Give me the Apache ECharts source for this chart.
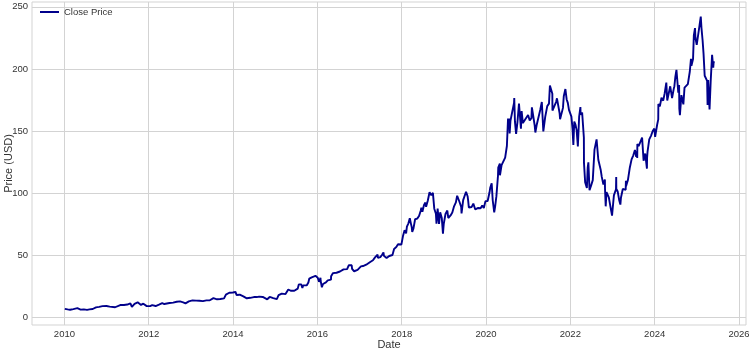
<!DOCTYPE html>
<html>
<head>
<meta charset="utf-8">
<script src="https://cdn.jsdelivr.net/npm/echarts@6/dist/echarts.min.js"></script>
<style>
  html, body { margin: 0; padding: 0; background: #fff; }
  #chart { width: 749px; height: 349px; }
</style>
</head>
<body>
<div id="chart"></div>
<script>
// close prices, split adjusted
let dates = [
  '2010-01-04','2010-01-15','2010-01-29','2010-02-05','2010-02-19','2010-03-05','2010-03-19','2010-04-01','2010-04-23','2010-05-07','2010-05-21','2010-06-04','2010-06-18','2010-07-01','2010-07-16','2010-08-06','2010-08-20','2010-09-03','2010-09-17','2010-10-01','2010-10-15','2010-10-29','2010-11-12','2010-11-26','2010-12-10','2010-12-31',
  '2011-01-14','2011-01-28','2011-02-11','2011-03-16','2011-04-01','2011-04-29','2011-05-31','2011-06-15','2011-06-30','2011-07-26','2011-08-08','2011-08-31','2011-09-27','2011-10-14','2011-10-26','2011-11-15','2011-11-30','2011-12-15','2011-12-30',
  '2012-01-13','2012-01-31','2012-02-15','2012-03-01','2012-03-30','2012-04-16','2012-04-27','2012-05-15','2012-06-01','2012-06-29','2012-07-16','2012-07-31','2012-08-15','2012-08-31','2012-09-14','2012-09-28','2012-10-15','2012-10-26','2012-11-15','2012-11-30','2012-12-14','2012-12-31',
  '2013-01-15','2013-01-31','2013-02-15','2013-02-28','2013-03-15','2013-03-28','2013-04-15','2013-04-30','2013-05-15','2013-05-31','2013-06-14','2013-06-28','2013-07-15','2013-07-31','2013-08-15','2013-08-30','2013-09-13','2013-09-30','2013-10-15','2013-10-31','2013-11-15','2013-11-29','2013-12-13','2013-12-31',
  '2014-01-15','2014-01-22','2014-01-31','2014-02-14','2014-02-28','2014-03-14','2014-03-31','2014-04-15','2014-04-30','2014-05-08','2014-05-30','2014-06-13','2014-06-30','2014-07-15','2014-07-25','2014-08-15','2014-08-29','2014-09-15','2014-09-30','2014-10-24','2014-10-31','2014-11-14','2014-11-28','2014-12-15','2014-12-31',
  '2015-01-15','2015-01-29','2015-01-30','2015-02-13','2015-02-27','2015-03-13','2015-03-31','2015-04-15','2015-04-24','2015-05-15','2015-05-29','2015-06-15','2015-06-30','2015-07-15','2015-07-24','2015-07-31','2015-08-14','2015-08-24','2015-08-31','2015-09-15','2015-09-30','2015-10-15','2015-10-23','2015-10-30','2015-11-13','2015-11-30','2015-12-15','2015-12-29',
  '2016-01-04','2016-01-15','2016-01-28','2016-01-29','2016-02-09','2016-02-19','2016-02-29','2016-03-15','2016-03-31','2016-04-15','2016-04-28','2016-04-29','2016-05-16','2016-05-31','2016-06-15','2016-06-24','2016-06-30','2016-07-15','2016-07-29','2016-08-15','2016-08-31','2016-09-15','2016-09-30','2016-10-14','2016-10-25','2016-10-28','2016-11-15','2016-11-30','2016-12-15','2016-12-30',
  '2017-01-13','2017-01-31','2017-02-03','2017-02-15','2017-02-28','2017-03-15','2017-03-31','2017-04-14','2017-04-27','2017-04-28','2017-05-15','2017-05-31','2017-06-06','2017-06-09','2017-06-16','2017-06-30','2017-07-14','2017-07-27','2017-07-31','2017-08-15','2017-08-23','2017-08-31','2017-09-15','2017-09-29','2017-10-13','2017-10-26','2017-10-27','2017-11-15','2017-11-30','2017-12-15','2017-12-29',
  '2018-01-12','2018-01-26','2018-02-01','2018-02-02','2018-02-08','2018-02-15','2018-02-28','2018-03-12','2018-03-23','2018-03-29','2018-04-02','2018-04-13','2018-04-27','2018-05-15','2018-05-31','2018-06-15','2018-06-20','2018-06-29','2018-07-13','2018-07-25','2018-07-31','2018-08-15','2018-08-30','2018-09-04','2018-09-14','2018-09-28','2018-10-10','2018-10-15','2018-10-24','2018-10-29','2018-11-08','2018-11-20','2018-11-30','2018-12-14','2018-12-24','2018-12-31',
  '2019-01-15','2019-01-31','2019-02-08','2019-02-28','2019-03-15','2019-03-29','2019-04-15','2019-04-26','2019-04-30','2019-05-15','2019-05-31','2019-06-03','2019-06-17','2019-06-28','2019-07-12','2019-07-26','2019-07-31','2019-08-05','2019-08-15','2019-08-30','2019-09-13','2019-09-30','2019-10-15','2019-10-25','2019-10-31','2019-11-15','2019-11-29','2019-12-13','2019-12-27','2019-12-31',
  '2020-01-15','2020-01-30','2020-01-31','2020-02-07','2020-02-19','2020-02-28','2020-03-12','2020-03-16','2020-03-20','2020-03-31','2020-04-14','2020-04-16','2020-04-30','2020-05-01','2020-05-15','2020-05-29','2020-06-15','2020-06-30','2020-07-10','2020-07-13','2020-07-20','2020-07-24','2020-07-31','2020-08-14','2020-08-31','2020-09-02','2020-09-08','2020-09-18','2020-09-30','2020-10-13','2020-10-30','2020-11-05','2020-11-16','2020-11-30','2020-12-15','2020-12-31',
  '2021-01-14','2021-01-29','2021-02-02','2021-02-26','2021-03-04','2021-03-15','2021-03-31','2021-04-15','2021-04-29','2021-05-12','2021-05-28','2021-06-15','2021-06-30','2021-07-08','2021-07-29','2021-07-30','2021-08-16','2021-08-31','2021-09-07','2021-09-30','2021-10-04','2021-10-29','2021-11-05','2021-11-19','2021-11-30','2021-12-10','2021-12-20','2021-12-31',
  '2022-01-10','2022-01-20','2022-01-27','2022-02-04','2022-02-14','2022-02-24','2022-03-07','2022-03-18','2022-03-29','2022-03-31','2022-04-13','2022-04-28','2022-04-29','2022-05-09','2022-05-12','2022-05-24','2022-05-31','2022-06-06','2022-06-16','2022-06-30','2022-07-14','2022-07-29','2022-08-16','2022-08-31','2022-09-13','2022-09-21','2022-09-30','2022-10-14','2022-10-27','2022-10-28','2022-11-03','2022-11-10','2022-11-30','2022-12-15','2022-12-28','2022-12-30',
  '2023-01-05','2023-01-13','2023-01-31','2023-02-02','2023-02-03','2023-02-15','2023-02-28','2023-03-10','2023-03-15','2023-03-31','2023-04-13','2023-04-25','2023-04-27','2023-04-28','2023-05-15','2023-05-31','2023-06-15','2023-06-30','2023-07-14','2023-07-25','2023-07-31','2023-08-03','2023-08-04','2023-08-15','2023-08-31','2023-09-14','2023-09-27','2023-09-29','2023-10-11','2023-10-26','2023-10-27','2023-10-31','2023-11-15','2023-11-30','2023-12-15','2023-12-29',
  '2024-01-05','2024-01-22','2024-02-01','2024-02-02','2024-02-15','2024-02-29','2024-03-15','2024-03-28','2024-04-11','2024-04-19','2024-04-30','2024-05-15','2024-05-31','2024-06-14','2024-06-20','2024-06-28','2024-07-08','2024-07-24','2024-07-31','2024-08-02','2024-08-07','2024-08-20','2024-08-30','2024-09-06','2024-09-16','2024-09-30','2024-10-15','2024-10-25','2024-10-31','2024-11-01','2024-11-11','2024-11-15','2024-11-29','2024-12-06','2024-12-16','2024-12-20','2024-12-31',
  '2025-01-10','2025-01-24','2025-02-04','2025-02-10','2025-02-20','2025-02-28','2025-03-10','2025-03-20','2025-03-31','2025-04-04','2025-04-09','2025-04-21','2025-05-01','2025-05-13','2025-05-20','2025-05-23','2025-05-27','2025-05-30'
]

let closePrices = [
  6.70,6.38,6.25,5.86,5.95,6.45,6.53,6.75,7.30,6.25,6.10,6.30,6.30,5.50,5.90,6.30,6.20,6.60,7.20,7.90,8.20,8.30,8.30,8.90,8.80,9.00,
  9.20,8.50,9.30,8.00,9.00,9.80,9.80,9.30,10.20,11.20,8.30,10.75,12.00,12.30,9.90,10.90,9.60,8.90,8.65,
  8.90,9.70,9.00,9.00,10.10,9.40,11.30,10.60,10.40,11.40,10.90,11.70,11.80,12.40,12.80,12.70,12.20,11.90,11.10,12.60,12.70,12.50,
  13.50,13.30,13.30,13.20,13.20,13.30,12.90,12.70,13.50,13.40,13.60,13.90,15.30,15.10,14.40,14.00,14.60,15.60,15.20,18.20,18.50,19.70,19.20,19.90,
  19.80,20.40,17.90,17.90,18.10,18.60,16.80,16.10,15.20,14.60,15.60,16.50,16.20,17.30,16.20,16.60,17.00,16.30,16.10,14.40,15.30,16.30,16.90,15.30,15.50,
  14.50,15.60,17.70,18.60,19.00,18.60,18.60,19.30,22.30,21.30,21.50,21.30,21.70,23.00,26.40,26.80,26.40,23.50,25.60,26.60,25.60,28.00,31.10,31.30,32.10,33.20,33.30,34.60,
  31.80,28.50,31.80,29.40,24.10,26.70,27.60,28.00,29.70,31.30,30.20,32.90,35.50,36.10,35.80,34.30,35.80,36.80,37.90,38.50,38.50,38.70,41.90,41.10,41.80,38.90,37.00,37.50,38.10,37.50,
  40.90,41.20,40.50,42.50,42.30,42.60,44.30,44.20,45.90,46.20,48.20,49.70,50.40,47.70,49.00,48.40,50.10,52.20,49.40,49.20,47.60,49.00,49.30,48.10,50.10,48.60,55.00,56.50,58.80,58.80,58.50,
  65.30,70.10,69.60,71.50,67.50,73.00,75.60,79.70,74.80,72.40,68.60,71.50,78.90,79.40,81.50,86.00,88.20,85.00,90.40,92.30,88.90,94.00,100.60,101.97,98.20,100.20,87.40,88.40,83.30,75.40,87.50,75.10,84.50,79.80,67.20,75.10,
  83.10,85.90,79.90,82.00,84.30,89.00,92.50,97.80,96.30,93.20,88.80,83.60,94.30,94.70,101.00,97.20,93.30,88.40,89.30,88.80,91.50,86.80,88.10,88.00,88.80,87.70,90.00,88.00,93.50,92.40,
  93.60,93.50,100.40,104.50,107.80,94.20,84.50,84.50,89.00,97.50,114.30,120.40,123.70,114.30,122.50,122.10,128.60,137.90,160.00,155.20,160.00,148.00,158.20,157.20,172.50,176.60,157.50,147.70,157.40,172.10,151.80,166.10,156.40,158.40,157.20,162.80,
  158.50,160.30,169.00,154.60,148.80,154.60,154.70,166.90,173.40,149.60,161.20,170.00,172.00,186.60,180.00,166.40,165.00,173.50,176.30,164.30,159.50,168.60,178.00,183.80,175.40,172.60,167.00,166.70,
  161.60,151.50,138.80,157.60,155.20,150.90,137.50,161.30,169.30,163.00,164.90,144.60,124.30,108.80,107.60,104.10,120.20,124.80,102.30,106.20,110.40,135.00,143.20,126.80,126.30,118.50,113.00,106.90,110.96,103.40,89.30,100.80,96.50,88.50,81.80,84.00,
  83.10,98.10,103.10,112.90,103.40,101.20,94.20,90.70,96.20,103.30,102.40,102.60,109.80,105.45,110.80,120.60,127.10,130.40,134.70,129.10,133.70,128.20,139.60,137.70,138.00,144.70,126.00,127.10,131.80,119.60,128.00,133.10,143.20,146.10,149.97,151.90,
  145.20,154.80,159.30,171.80,169.80,176.80,174.40,180.40,189.00,174.60,175.00,186.00,176.40,183.70,186.10,193.30,199.30,180.80,187.00,167.90,162.80,178.90,178.50,171.40,184.90,186.30,187.70,187.80,186.40,197.90,208.20,202.60,207.90,227.00,232.90,224.90,219.40,
  218.90,234.90,242.10,233.10,222.90,212.30,194.50,195.00,190.30,171.00,191.10,167.30,190.20,211.40,204.10,201.00,206.00,205.00
]

let yearTicks = [2010, 2012, 2014, 2016, 2018, 2020, 2022, 2024, 2026]
let priceTicks = [0, 50, 100, 150, 200, 250]

// date string -> fractional year for the value axis
function toYear(s) {
  let [y, m, d] = s.split('-').map(Number)
  let start = Date.UTC(y, 0, 1)
  let end = Date.UTC(y + 1, 0, 1)
  return y + (Date.UTC(y, m - 1, d) - start) / (end - start)
}

let seriesData = dates.map((d, i) => [toYear(d), closePrices[i]])

let fontFamily = "'Liberation Sans', Arial, sans-serif"
let gridColor = '#d3d3d3'
let textColor = '#333333'

let chart = echarts.init(document.getElementById('chart'), null, { renderer: 'canvas' })

chart.setOption({
  animation: false,
  textStyle: { fontFamily: fontFamily },
  grid: {
    left: 32, right: 3, top: 2, bottom: 24,
    containLabel: false,
    outerBoundsMode: 'none',
    show: true, borderColor: gridColor, borderWidth: 1
  },
  legend: {
    left: 40, top: 7,
    padding: 0,
    icon: 'rect',
    itemWidth: 19, itemHeight: 2,
    textStyle: { fontSize: 9.5, color: textColor, fontFamily: fontFamily },
    data: ['Close Price']
  },
  xAxis: {
    type: 'value',
    min: 2009.231, max: 2026.166,
    name: 'Date',
    nameLocation: 'middle',
    nameGap: 14,
    nameMoveOverlap: false,
    nameTextStyle: { fontSize: 11, color: textColor },
    axisLine: { show: false },
    axisTick: { show: false, customValues: yearTicks },
    axisLabel: {
      customValues: yearTicks,
      margin: 4,
      fontSize: 9.5, color: textColor,
      formatter: v => String(Math.round(v))
    },
    splitLine: { show: true, lineStyle: { color: gridColor, width: 1 } }
  },
  yAxis: {
    type: 'value',
    min: -6.3, max: 253.9,
    name: 'Price (USD)',
    nameLocation: 'middle',
    nameGap: 18,
    nameMoveOverlap: false,
    nameTextStyle: { fontSize: 11, color: textColor },
    axisLine: { show: false },
    axisTick: { show: false, customValues: priceTicks },
    axisLabel: {
      customValues: priceTicks,
      margin: 4,
      fontSize: 9.5, color: textColor
    },
    splitLine: { show: true, lineStyle: { color: gridColor, width: 1 } }
  },
  series: [
    {
      name: 'Close Price',
      type: 'line',
      data: seriesData,
      showSymbol: false,
      symbol: 'none',
      color: '#00008B',
      lineStyle: { color: '#00008B', width: 1.9 },
      emphasis: { disabled: true }
    }
  ]
})
</script>
</body>
</html>
